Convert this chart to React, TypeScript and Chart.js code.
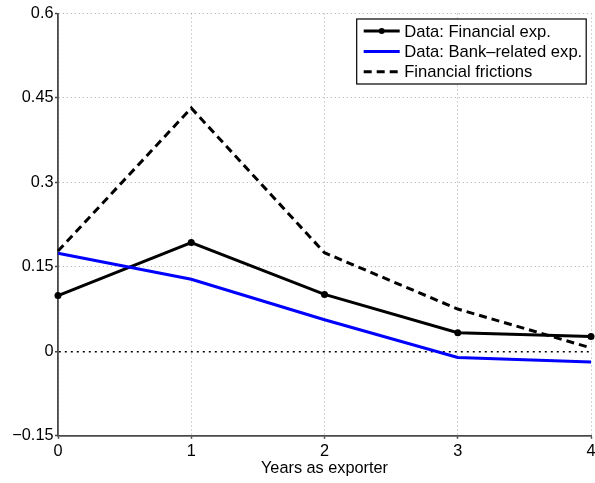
import React, { useEffect, useRef } from "react";
import { Chart, registerables } from "chart.js";

Chart.register(...registerables);

// Years since the firm started exporting
const years = ["0", "1", "2", "3", "4"];

// Series values
const financialExp = [0.099, 0.193, 0.101, 0.033, 0.026];
const bankRelatedExp = [0.174, 0.128, 0.056, -0.011, -0.019];
const financialFrictions = [0.178, 0.432, 0.175, 0.075, 0.006];

const seriesLabels = [
  "Data: Financial exp.",
  "Data: Bank\u2013related exp.",
  "Financial frictions",
];

// Vertical axis ticks
const yTickValues = [-0.15, 0, 0.15, 0.3, 0.45, 0.6];
const yTickLabels = ["\u22120.15", "0", "0.15", "0.3", "0.45", "0.6"];

const xTitle = "Years as exporter";

const FONT = "'Liberation Sans', Arial, Helvetica, sans-serif";
const W = 595;
const H = 483;

// Legend box drawn inside the plot area, top-right corner
const legendPlugin = {
  id: "insetLegend",
  afterDraw(chart: any) {
    const ctx = chart.ctx as CanvasRenderingContext2D;
    const area = chart.chartArea;
    const bw = 229.5;
    const bh = 65;
    const x0 = area.right - 4.8 - bw;
    const y0 = area.top + 5.5;
    ctx.save();
    ctx.fillStyle = "#ffffff";
    ctx.fillRect(x0, y0, bw, bh);
    ctx.strokeStyle = "#000000";
    ctx.lineWidth = 1.2;
    ctx.strokeRect(x0, y0, bw, bh);
    const order = [0, 1, 2];
    order.forEach((di, row) => {
      const ds = chart.data.datasets[di];
      const cy = y0 + 12 + row * 20.4;
      const lx0 = x0 + 7;
      const lx1 = x0 + 43;
      ctx.beginPath();
      ctx.strokeStyle = ds.borderColor;
      ctx.lineWidth = ds.borderWidth;
      ctx.setLineDash(ds.borderDash || []);
      ctx.moveTo(lx0, cy);
      ctx.lineTo(lx1, cy);
      ctx.stroke();
      ctx.setLineDash([]);
      if (ds.pointRadius > 0) {
        ctx.beginPath();
        ctx.fillStyle = ds.pointBackgroundColor;
        ctx.arc((lx0 + lx1) / 2, cy, ds.pointRadius - 0.5, 0, Math.PI * 2);
        ctx.fill();
      }
      ctx.fillStyle = "#000000";
      ctx.font = `16.6px ${FONT}`;
      ctx.textBaseline = "middle";
      ctx.textAlign = "left";
      ctx.fillText(ds.label, x0 + 47.5, cy + 1);
    });
    ctx.restore();
  },
};

export default function App() {
  const canvasRef = useRef<HTMLCanvasElement | null>(null);

  useEffect(() => {
    const canvas = canvasRef.current;
    if (!canvas) return;

    const gridColor = (c: any) =>
      c.tick && c.tick.value === 0 ? "#000000" : "#a8a8a8";
    const gridWidth = (c: any) => (c.tick && c.tick.value === 0 ? 1.5 : 1);
    const gridDash = (c: any) =>
      c.tick && c.tick.value === 0 ? [2, 4] : [1, 3];

    const chart = new Chart(canvas, {
      type: "line",
      data: {
        labels: years,
        datasets: [
          {
            label: seriesLabels[0],
            data: financialExp,
            borderColor: "#000000",
            backgroundColor: "#000000",
            borderWidth: 3,
            pointRadius: 3.5,
            pointBackgroundColor: "#000000",
            pointBorderWidth: 0,
            tension: 0,
            order: 2,
          },
          {
            label: seriesLabels[1],
            data: bankRelatedExp,
            borderColor: "#0000ff",
            backgroundColor: "#0000ff",
            borderWidth: 3,
            pointRadius: 0,
            tension: 0,
            order: 1,
          },
          {
            label: seriesLabels[2],
            data: financialFrictions,
            borderColor: "#000000",
            backgroundColor: "#000000",
            borderWidth: 3,
            borderDash: [8, 5],
            pointRadius: 0,
            tension: 0,
            order: 0,
          },
        ] as any,
      },
      options: {
        responsive: false,
        animation: false,
        devicePixelRatio: 1,
        layout: { padding: { top: 13.5, right: 2.3, left: 0, bottom: 0 } },
        plugins: {
          legend: { display: false },
          tooltip: { enabled: false },
        },
        scales: {
          x: {
            type: "category",
            offset: false,
            grid: {
              color: "#a8a8a8",
              lineWidth: 1,
              drawTicks: true,
              tickLength: 3,
              tickColor: "#444444",
              tickWidth: 1.5,
              tickBorderDash: [],
            },
            border: { display: true, color: "#4a4a4a", width: 1.8, dash: [1, 3] },
            ticks: {
              color: "#000000",
              padding: 3,
              maxRotation: 0,
              autoSkip: false,
              font: { family: FONT, size: 16.3 },
            },
            title: {
              display: true,
              text: xTitle,
              color: "#000000",
              font: { family: FONT, size: 16.3 },
              padding: { top: 0, bottom: 4.5 },
            },
            afterFit(scale: any) {
              scale.height = 47.3;
              scale.paddingLeft = 0;
              scale.paddingRight = 0;
            },
          } as any,
          y: {
            type: "linear",
            min: -0.15,
            max: 0.6,
            grid: {
              color: gridColor,
              lineWidth: gridWidth,
              drawTicks: true,
              tickLength: 3,
              tickColor: "#444444",
              tickWidth: 1.5,
              tickBorderDash: [],
            },
            border: { display: true, color: "#4a4a4a", width: 1.8, dash: gridDash },
            afterBuildTicks(scale: any) {
              scale.ticks = yTickValues.map((v) => ({ value: v }));
            },
            ticks: {
              color: "#000000",
              padding: 1.5,
              font: { family: FONT, size: 16.3 },
              callback: (_v: any, i: number) => yTickLabels[i],
            },
            afterFit(scale: any) {
              scale.width = 58;
              scale.paddingTop = 0;
              scale.paddingBottom = 0;
            },
          } as any,
        },
      },
      plugins: [legendPlugin],
    });

    return () => chart.destroy();
  }, []);

  return (
    <div
      style={{
        position: "fixed",
        left: 0,
        top: 0,
        width: W,
        height: H,
        background: "#ffffff",
      }}
    >
      <canvas ref={canvasRef} width={W} height={H} style={{ width: W, height: H }} />
    </div>
  );
}
